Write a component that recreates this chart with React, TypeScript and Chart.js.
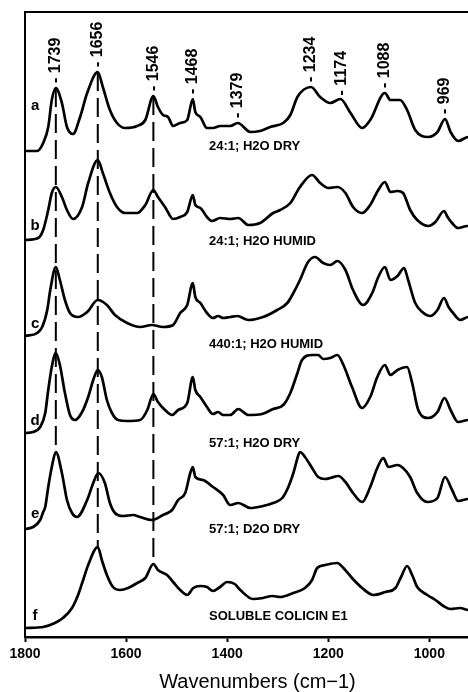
import React, { useEffect, useRef } from 'react';
import { Chart, registerables } from 'chart.js';

Chart.register(...registerables);

const FONT = '"Liberation Sans", Arial, Helvetica, sans-serif';

// x axis
const xTickValues = [1800, 1600, 1400, 1200, 1000];
const xMin = 880;
const xMax = 1800;
const axisTitle = 'Wavenumbers (cm\u22121)';

// traces: [wavenumber, intensity above own baseline] (arbitrary units)
const traceA: [number, number][] = [
  [1800, 0], [1776, 0], [1764, 8], [1754, 24], [1747, 51], [1739, 63], [1727, 48], [1717, 24],
  [1705, 17], [1691, 34], [1677, 58], [1656, 79], [1646, 64], [1632, 41], [1618, 28], [1602, 23],
  [1578, 25], [1562, 31], [1546, 55], [1537, 44], [1527, 36], [1517, 34], [1507, 25], [1493, 28],
  [1479, 31], [1468, 52], [1463, 39], [1453, 34], [1440, 23], [1428, 23], [1414, 25], [1394, 25],
  [1379, 28], [1354, 19], [1335, 20], [1315, 24], [1289, 28], [1275, 36], [1261, 54], [1234, 64],
  [1216, 54], [1196, 48], [1176, 52], [1156, 38], [1133, 23], [1117, 31], [1088, 58], [1077, 51],
  [1058, 51], [1044, 41], [1028, 21], [1002, 14], [984, 19], [969, 32], [958, 19], [943, 10],
  [923, 14], [900, 14],
];
const traceB: [number, number][] = [
  [1800, 0], [1774, 2], [1764, 10], [1754, 30], [1747, 47], [1739, 53], [1727, 43], [1717, 30],
  [1705, 21], [1687, 33], [1675, 57], [1656, 80], [1646, 67], [1632, 47], [1618, 33], [1602, 27],
  [1578, 27], [1562, 35], [1546, 50], [1537, 43], [1523, 33], [1507, 21], [1493, 23], [1479, 28],
  [1468, 45], [1463, 35], [1453, 32], [1440, 23], [1430, 19], [1414, 22], [1394, 21], [1378, 22],
  [1358, 15], [1335, 17], [1309, 27], [1295, 30], [1275, 37], [1256, 53], [1232, 65], [1216, 57],
  [1200, 52], [1182, 53], [1166, 47], [1151, 33], [1133, 27], [1117, 35], [1101, 50], [1088, 58],
  [1077, 48], [1063, 49], [1052, 47], [1038, 30], [1024, 20], [1002, 14], [988, 18], [971, 29],
  [964, 23], [955, 17], [943, 12], [925, 14], [900, 14],
];
const traceC: [number, number][] = [
  [1800, 0], [1776, 3], [1766, 9], [1756, 26], [1750, 46], [1739, 69], [1731, 56], [1721, 36],
  [1711, 23], [1695, 19], [1677, 24], [1656, 36], [1638, 31], [1622, 21], [1598, 13], [1572, 9],
  [1549, 11], [1527, 9], [1507, 11], [1493, 23], [1479, 31], [1468, 53], [1463, 39], [1453, 33],
  [1440, 23], [1428, 18], [1418, 20], [1408, 18], [1394, 19], [1380, 20], [1358, 16], [1329, 19],
  [1301, 26], [1281, 33], [1269, 43], [1256, 56], [1240, 74], [1226, 79], [1210, 73], [1196, 71],
  [1182, 75], [1166, 66], [1151, 46], [1131, 31], [1113, 43], [1101, 59], [1088, 69], [1077, 56],
  [1063, 60], [1050, 68], [1042, 56], [1028, 33], [1014, 24], [998, 20], [984, 26], [971, 38],
  [962, 29], [953, 23], [939, 16], [923, 19], [900, 18],
];
const traceD: [number, number][] = [
  [1800, 0], [1784, 1], [1770, 6], [1760, 20], [1754, 43], [1747, 66], [1739, 80], [1731, 68],
  [1721, 40], [1711, 18], [1701, 13], [1687, 21], [1675, 36], [1665, 53], [1656, 63], [1648, 56],
  [1638, 33], [1628, 20], [1616, 13], [1598, 12], [1572, 13], [1558, 23], [1546, 39], [1537, 31],
  [1523, 23], [1509, 18], [1497, 23], [1479, 30], [1468, 56], [1463, 43], [1453, 36], [1440, 26],
  [1428, 19], [1418, 21], [1408, 18], [1394, 18], [1378, 24], [1358, 18], [1331, 19], [1309, 24],
  [1289, 28], [1275, 40], [1261, 60], [1252, 73], [1232, 78], [1220, 78], [1210, 74], [1196, 75],
  [1182, 78], [1170, 68], [1153, 46], [1133, 25], [1117, 36], [1103, 56], [1088, 68], [1077, 58],
  [1063, 63], [1044, 66], [1034, 50], [1022, 23], [1002, 15], [984, 21], [970, 35], [958, 23],
  [943, 11], [923, 13], [900, 13],
];
const traceE: [number, number][] = [
  [1800, 0], [1784, 2], [1770, 9], [1764, 17], [1760, 22], [1754, 42], [1747, 62], [1739, 77],
  [1727, 56], [1717, 29], [1707, 16], [1697, 12], [1677, 29], [1665, 46], [1655, 56], [1642, 46],
  [1632, 26], [1622, 16], [1606, 13], [1586, 14], [1572, 12], [1549, 9], [1527, 14], [1509, 19],
  [1497, 29], [1483, 36], [1473, 56], [1468, 62], [1463, 52], [1448, 49], [1428, 42], [1408, 34],
  [1394, 24], [1378, 26], [1354, 21], [1329, 23], [1309, 26], [1291, 31], [1279, 42], [1269, 56],
  [1259, 74], [1256, 77], [1246, 72], [1232, 61], [1220, 52], [1206, 50], [1196, 51], [1180, 53],
  [1166, 47], [1151, 36], [1133, 27], [1117, 42], [1103, 61], [1091, 71], [1081, 62], [1063, 64],
  [1052, 61], [1038, 52], [1024, 36], [1004, 27], [984, 31], [969, 52], [955, 39], [943, 28],
  [923, 30], [900, 30],
];
const traceF: [number, number][] = [
  [1800, 0], [1764, 1], [1741, 5], [1725, 10], [1707, 20], [1695, 33], [1685, 48], [1675, 63],
  [1656, 81], [1648, 68], [1638, 53], [1626, 41], [1612, 38], [1596, 40], [1578, 45], [1562, 50],
  [1546, 64], [1537, 58], [1519, 53], [1507, 46], [1493, 38], [1479, 33], [1467, 40], [1453, 42],
  [1440, 41], [1428, 37], [1414, 41], [1400, 46], [1385, 44], [1374, 38], [1349, 29], [1329, 30],
  [1311, 32], [1295, 31], [1269, 35], [1246, 40], [1232, 48], [1222, 60], [1206, 63], [1182, 65],
  [1170, 60], [1153, 50], [1133, 40], [1111, 33], [1087, 36], [1067, 40], [1056, 51], [1044, 62],
  [1034, 53], [1024, 41], [1004, 33], [988, 28], [972, 22], [958, 19], [939, 20], [923, 18],
  [900, 18],
];

const traces = [traceA, traceB, traceC, traceD, traceE, traceF];
const traceLetters = ['a', 'b', 'c', 'd', 'e', 'f'];
const traceConditions = [
  '24:1; H2O DRY',
  '24:1; H2O HUMID',
  '440:1; H2O HUMID',
  '57:1; H2O DRY',
  '57:1; D2O DRY',
  'SOLUBLE COLICIN E1',
];
// vertical stacking offsets of each spectrum
const traceOffsets = [486, 397, 301, 204, 108, 9];

// annotation anchors (data coordinates)
const letterY = [527, 407, 309, 212, 119, 17];
const letterX = 1780;
const conditionY = [487, 392, 289, 190, 104, 17];
const conditionX = 1436;

const peakLabels = [1739, 1656, 1546, 1468, 1379, 1234, 1174, 1088, 969];
const dashedPeaks = [1739, 1656, 1546];
const dashedEndTrace = [4, 5, 5];

const Y_MAX = 625;

function valueAt(ti: number, wn: number): number {
  const t = traces[ti];
  for (let i = 0; i < t.length - 1; i++) {
    const [x1, y1] = t[i];
    const [x2, y2] = t[i + 1];
    if (wn <= x1 && wn >= x2) {
      const f = x1 === x2 ? 0 : (x1 - wn) / (x1 - x2);
      return traceOffsets[ti] + y1 + (y2 - y1) * f;
    }
  }
  return traceOffsets[ti];
}

const annotatePlugin = {
  id: 'annotate',
  afterDatasetsDraw(chart: any) {
    const { ctx, chartArea } = chart;
    const xs = chart.scales.x;
    const ys = chart.scales.y;
    ctx.save();
    ctx.strokeStyle = '#000';
    ctx.fillStyle = '#000';

    // top frame line
    ctx.lineWidth = 2;
    ctx.beginPath();
    ctx.moveTo(chartArea.left - 1, chartArea.top);
    ctx.lineTo(chartArea.right, chartArea.top);
    ctx.stroke();

    // dashed guide lines
    ctx.lineWidth = 2;
    ctx.setLineDash([19, 7]);
    dashedPeaks.forEach((wn, i) => {
      const px = xs.getPixelForValue(wn);
      const y1 = ys.getPixelForValue(valueAt(0, wn));
      const y2 = ys.getPixelForValue(valueAt(dashedEndTrace[i], wn));
      ctx.beginPath();
      ctx.moveTo(px, y1);
      ctx.lineTo(px, y2);
      ctx.stroke();
    });
    ctx.setLineDash([]);

    // rotated peak labels above trace a
    ctx.font = `bold 16px ${FONT}`;
    ctx.textAlign = 'left';
    ctx.textBaseline = 'middle';
    peakLabels.forEach((wn) => {
      const px = xs.getPixelForValue(wn);
      const py = ys.getPixelForValue(valueAt(0, wn)) - 5;
      ctx.save();
      ctx.translate(px, py);
      ctx.rotate(-Math.PI / 2);
      ctx.fillText('- ' + wn, 0, 0);
      ctx.restore();
    });

    // trace letters
    ctx.font = `bold 15px ${FONT}`;
    ctx.textAlign = 'center';
    ctx.textBaseline = 'alphabetic';
    traceLetters.forEach((l, i) => {
      ctx.fillText(l, xs.getPixelForValue(letterX), ys.getPixelForValue(letterY[i]));
    });

    // condition labels
    ctx.font = `bold 13px ${FONT}`;
    ctx.textAlign = 'left';
    traceConditions.forEach((c, i) => {
      ctx.fillText(c, xs.getPixelForValue(conditionX), ys.getPixelForValue(conditionY[i]));
    });

    ctx.restore();
  },
};

export default function App() {
  const ref = useRef<HTMLCanvasElement>(null);

  useEffect(() => {
    if (!ref.current) return;
    Chart.defaults.font.family = FONT;
    const datasets = traces.map((t, i) => ({
      label: traceLetters[i],
      data: t.map(([x, y]) => ({ x, y: traceOffsets[i] + y })),
      borderColor: '#000',
      borderWidth: 2.7,
      pointRadius: 0,
      fill: false,
      cubicInterpolationMode: 'monotone' as const,
    }));
    const chart = new Chart(ref.current, {
      type: 'line',
      data: { datasets },
      options: {
        animation: false,
        responsive: false,
        devicePixelRatio: 1,
        layout: { padding: { top: 12, left: 0, right: 0, bottom: 0 } },
        plugins: { legend: { display: false }, tooltip: { enabled: false } },
        scales: {
          x: {
            type: 'linear',
            reverse: true,
            min: xMin,
            max: xMax,
            afterBuildTicks: (s: any) => {
              s.ticks = xTickValues.map((v) => ({ value: v }));
            },
            afterFit: (s: any) => {
              s.height = 55;
            },
            ticks: {
              font: { family: FONT, size: 14, weight: 'bold' },
              color: '#000',
              padding: 4,
              maxRotation: 0,
              autoSkip: false,
              callback: (v: any) => String(v),
            },
            grid: {
              display: true,
              drawOnChartArea: false,
              drawTicks: true,
              tickLength: 5,
              tickWidth: 2,
              tickColor: '#000',
            },
            border: { display: true, color: '#000', width: 2.5 },
            title: {
              display: true,
              text: axisTitle,
              color: '#000',
              font: { family: FONT, size: 20, weight: 'normal', lineHeight: 1 },
              padding: 0,
            },
          },
          y: {
            type: 'linear',
            min: 0,
            max: Y_MAX,
            afterFit: (s: any) => {
              s.width = 25;
            },
            ticks: { display: false },
            grid: { display: true, drawOnChartArea: false, drawTicks: false },
            border: { display: true, color: '#000', width: 2 },
          },
        },
      },
      plugins: [annotatePlugin],
    });
    return () => chart.destroy();
  }, []);

  return (
    <div
      style={{
        position: 'fixed',
        left: 0,
        top: 0,
        width: 468,
        height: 692,
        overflow: 'hidden',
        background: '#fff',
      }}
    >
      <canvas ref={ref} width={490} height={692} style={{ display: 'block' }} />
    </div>
  );
}
